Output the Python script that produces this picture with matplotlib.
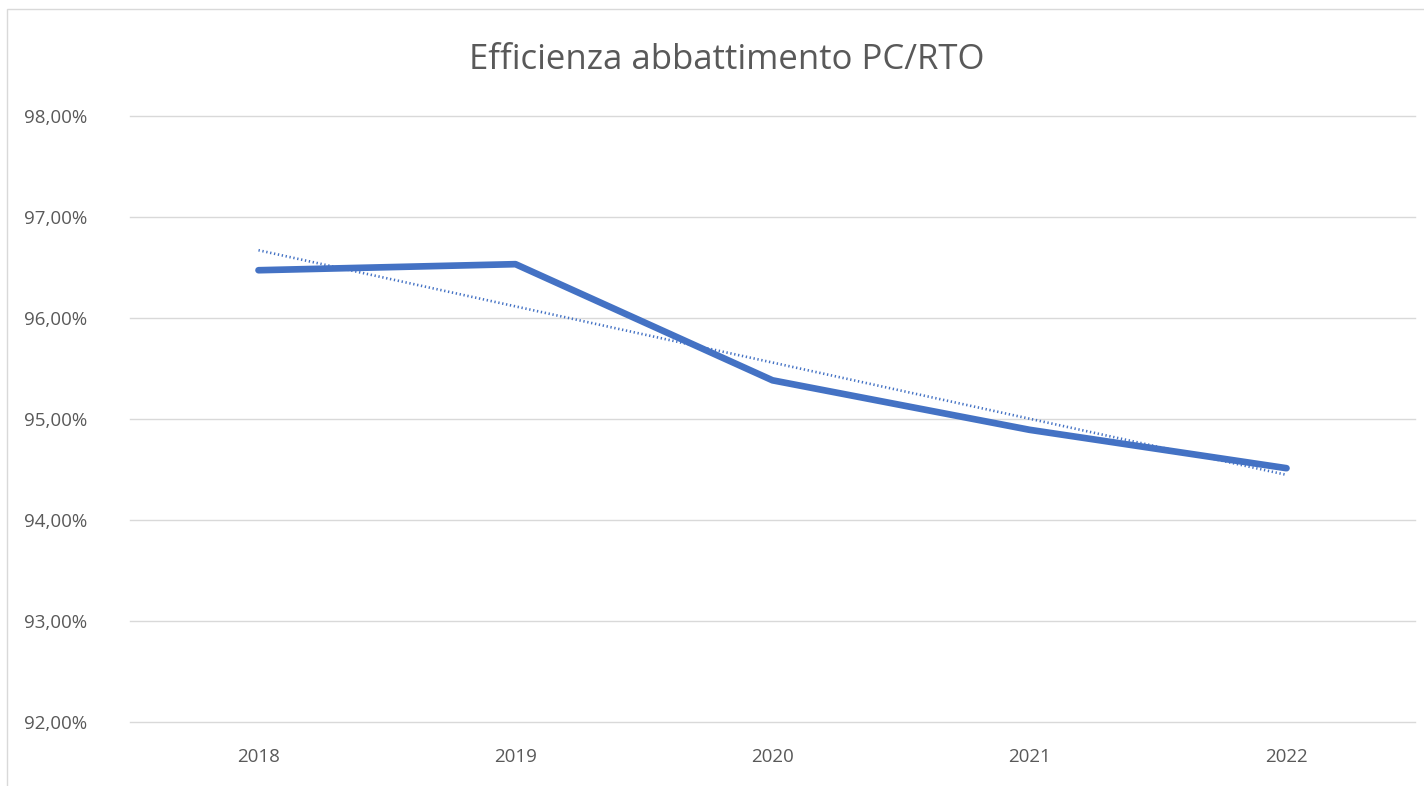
import matplotlib
matplotlib.use("Agg")
import matplotlib.pyplot as plt
from matplotlib.patches import Rectangle
from matplotlib.ticker import FuncFormatter
import numpy as np

years = ["2018", "2019", "2020", "2021", "2022"]
efficiency = [96.47, 96.53, 95.38, 94.89, 94.51]
y_ticks = [92, 93, 94, 95, 96, 97, 98]
title = "Efficienza abbattimento PC/RTO"

plt.rcParams['font.family'] = ['Open Sans', 'DejaVu Sans']

fig = plt.figure(figsize=(14.24, 7.86), dpi=100)
fig.patch.set_facecolor("white")
fig.patches.append(Rectangle((7/1424, -0.1), 1.2, 1 - 9/786 + 0.1, transform=fig.transFigure,
                             fill=False, edgecolor="#d9d9d9", linewidth=1.0))

ax = fig.add_axes([130/1424, 1 - 721.7/786, (1415 - 130)/1424, (721.7 - 115.7)/786])
x = np.arange(len(years))
color = "#4472C4"
ax.plot(x, efficiency, color=color, linewidth=4.8, solid_capstyle="round", solid_joinstyle="round", zorder=3)

coef = np.polyfit(x, efficiency, 1)
trend = np.polyval(coef, x)
ax.plot(x, trend, color=color, linewidth=1.9, linestyle=(0, (0.5, 1.0)), zorder=4)

ax.set_xlim(-0.5, len(years) - 0.5)
ax.set_ylim(92, 98)
ax.set_yticks(y_ticks)
ax.yaxis.set_major_formatter(FuncFormatter(lambda v, p: f"{v:.2f}".replace(".", ",") + "%"))
ax.set_xticks(x)
ax.set_xticklabels(years)
ax.grid(axis="y", color="#d9d9d9", linewidth=1.0)
for gl in ax.get_ygridlines():
    gl.set_clip_on(False)
ax.set_axisbelow(True)
for s in ax.spines.values():
    s.set_visible(False)
ax.tick_params(axis="both", length=0, labelsize=13.5, labelcolor="#595959")
ax.tick_params(axis="x", pad=19)
for lab in ax.get_yticklabels():
    lab.set_horizontalalignment("left")
ax.yaxis.set_tick_params(pad=76)

fig.text(727/1424, 1 - 60/786, title, ha="center", va="center", fontsize=25, color="#595959")

fig.savefig("out.png", dpi=100, facecolor="white")
